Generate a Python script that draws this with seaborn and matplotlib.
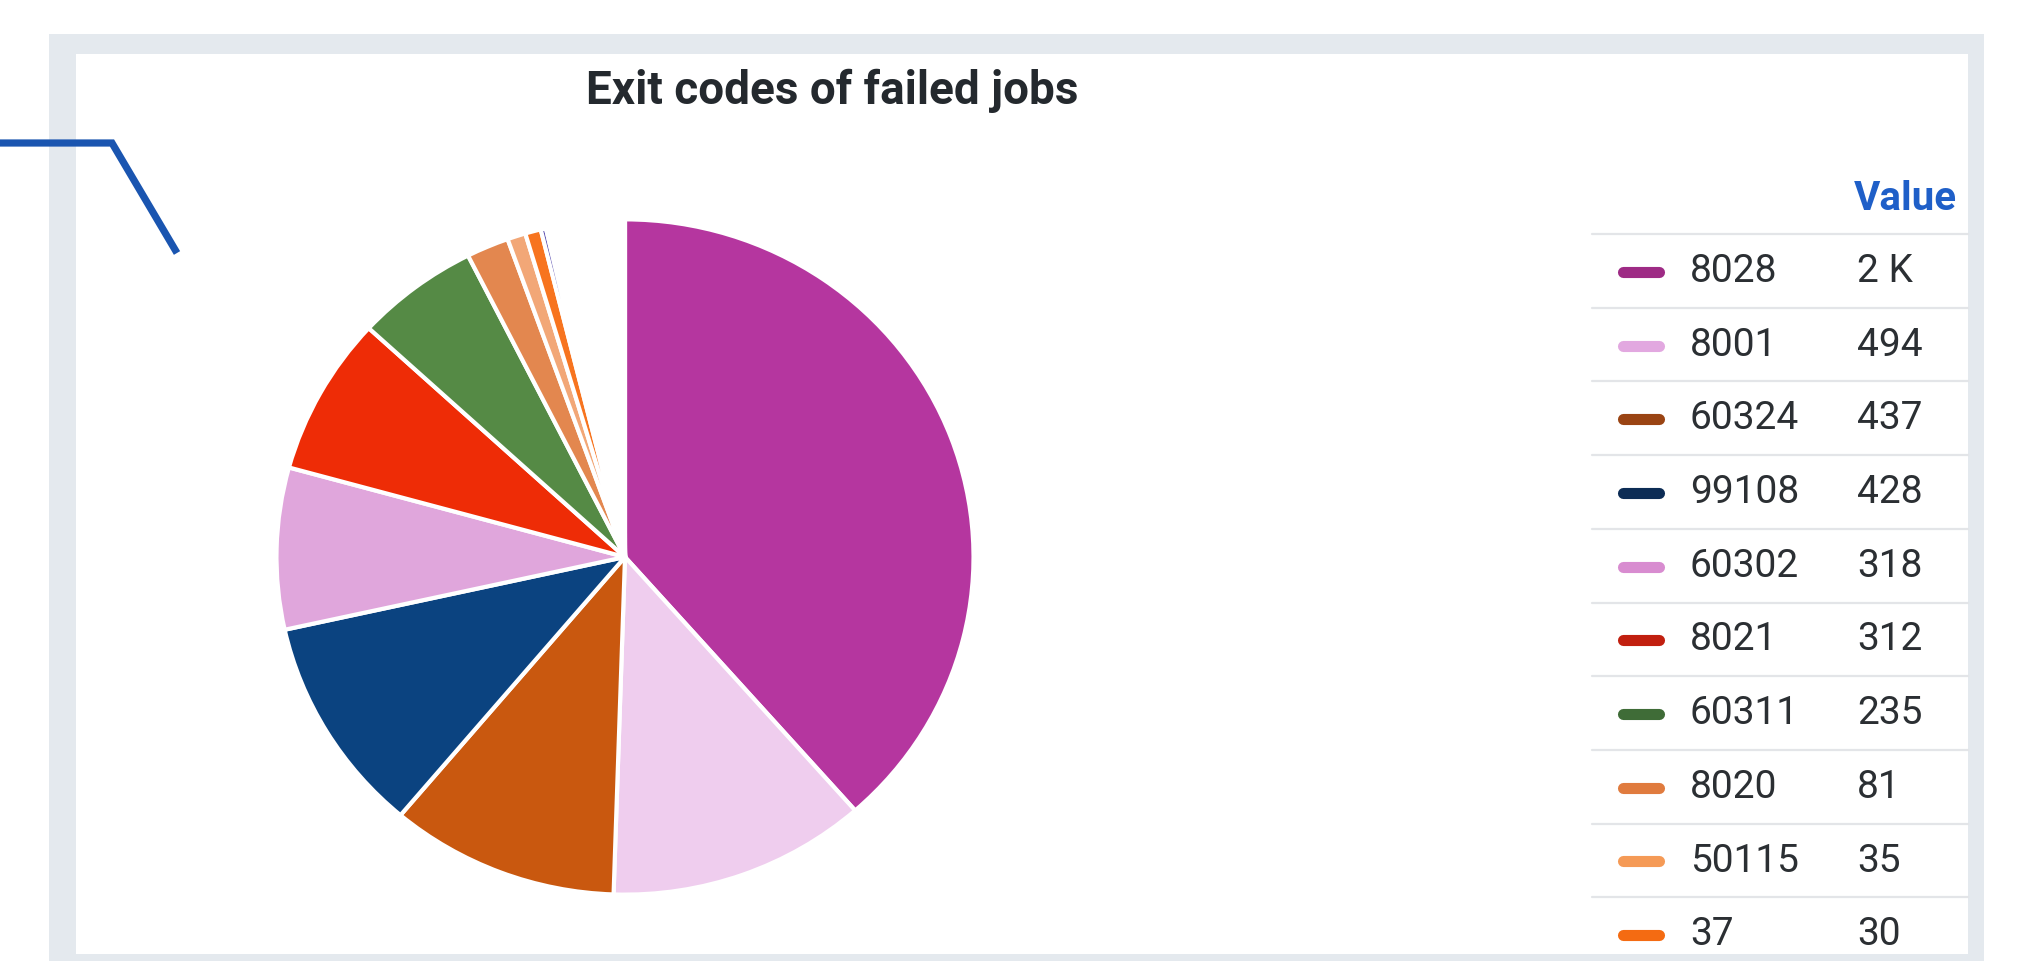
import matplotlib
matplotlib.use("Agg")
import matplotlib.pyplot as plt
import seaborn as sns
from matplotlib.patches import Rectangle
from matplotlib.lines import Line2D

# ---------------- data ----------------
title = "Exit codes of failed jobs"
exit_codes = ["8028", "8001", "60324", "99108", "60302", "8021", "60311", "8020", "50115", "37"]
failed_counts = [1585, 494, 437, 428, 318, 312, 235, 81, 35, 30]
# legend rows below the visible (scrolled) area: tiny slices at the end of the pie
hidden_counts = [10, 6, 5, 5, 5, 5, 5, 5, 5, 5, 5, 5,
                 4, 4, 4, 4, 4, 4, 4, 4, 4, 4, 4, 4, 4, 4, 4,
                 3, 3, 3, 3, 3, 3, 3, 3, 2, 2, 2, 2, 2]
value_header = "Value"

# ---------------- style ----------------
pie_colors = ["#b5369f", "#efcdee", "#c9580f", "#0b4380", "#e0a6dc",
              "#ee2c06", "#558a45", "#e3874f", "#f2a777", "#f7741f"]
swatch_colors = ["#9e2b85", "#e2a8e0", "#9a4413", "#0c2c55", "#d88cd0",
                 "#c11f0f", "#3f6c37", "#e07b3e", "#f59a56", "#f46b12"]
hidden_colors = ["#5a4fb0", "#cfc8ea", "#d8dcea", "#e0d8e8"] + ["#f7f7fa"] * 60

sns.set_theme(style="white")
plt.rcParams["font.family"] = ["Roboto", "DejaVu Sans"]

W, H = 2018, 961
DPI = 100
fig = plt.figure(figsize=(W / DPI, H / DPI), dpi=DPI)
fig.patch.set_facecolor("white")

# overlay axes in pixel coordinates
bg = fig.add_axes([0, 0, 1, 1], zorder=0)
bg.set_xlim(0, W)
bg.set_ylim(H, 0)
bg.axis("off")

# panel frame
bg.add_patch(Rectangle((49, 34), 1984 - 49, H - 34, facecolor="#e4e9ee", edgecolor="none"))
bg.add_patch(Rectangle((76, 54), 1968 - 76, 954 - 54, facecolor="white", edgecolor="none"))

# blue pointer line (annotation outside the panel)
bg.add_line(Line2D([0, 112, 177], [143, 143, 253], color="#1a55b0", lw=5.2,
                   solid_joinstyle="miter", solid_capstyle="butt", zorder=5))

# title
bg.text(832, 104, title, ha="center", va="baseline", fontsize=33, fontweight="bold",
        color="#24292e")

# ---------------- pie ----------------
cx, cy, rx, ry = 625, 557, 352, 341
pax = fig.add_axes([(cx - rx) / W, (H - cy - ry) / H, 2 * rx / W, 2 * ry / H], zorder=1)
pax.patch.set_alpha(0)
values = failed_counts + hidden_counts
colors = pie_colors + hidden_colors[:len(hidden_counts)]
pax.pie(values, colors=colors, startangle=90, counterclock=False, radius=1,
        wedgeprops=dict(edgecolor="white", linewidth=3.0, joinstyle="round"))
pax.set_xlim(-1.01, 1.01)
pax.set_ylim(-1.01, 1.01)
pax.set_aspect("auto")
pax.axis("off")

# ---------------- legend table ----------------
def fmt(v):
    return f"{round(v / 1000):.0f} K" if v >= 1000 else str(v)

line_x0, line_x1 = 1592, 1968
sep0 = 234
step = 73.7
text_color = "#2b2f33"

bg.text(1957, 210, value_header, ha="right", va="baseline", fontsize=29,
        fontweight="bold", color="#1f5fc8")

for i, (code, val) in enumerate(zip(exit_codes, failed_counts)):
    top = sep0 + i * step
    bg.add_line(Line2D([line_x0, line_x1], [top, top], color="#e3e5e8", lw=1.6, zorder=2))
    yc = top + step / 2 + 1
    bg.add_line(Line2D([1623, 1659], [yc, yc], color=swatch_colors[i], lw=8,
                       solid_capstyle="round", zorder=3))
    bg.text(1690, top + 48, code, ha="left", va="baseline", fontsize=28, color=text_color)
    bg.text(1857, top + 48, fmt(val), ha="left", va="baseline", fontsize=28, color=text_color)

fig.savefig("out.png", dpi=DPI, facecolor="white")
